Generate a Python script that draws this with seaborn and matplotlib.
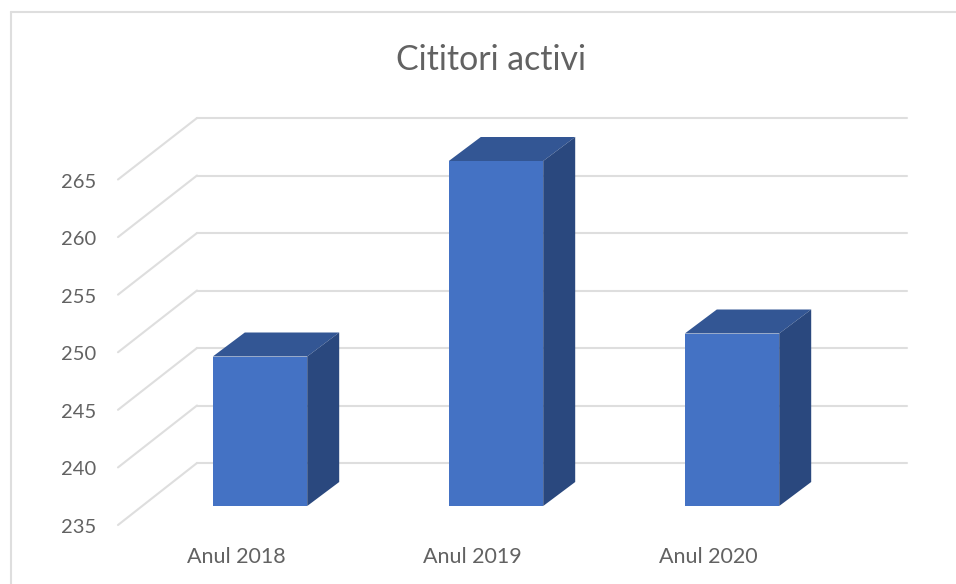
import matplotlib
matplotlib.use("Agg")
import matplotlib.pyplot as plt
import seaborn as sns
from matplotlib.lines import Line2D
from matplotlib.patches import ConnectionPatch, Polygon
from matplotlib.transforms import Affine2D, IdentityTransform

years = ["Anul 2018", "Anul 2019", "Anul 2020"]
cititori = [248, 265, 250]
y_ticks = [235, 240, 245, 250, 255, 260, 265]

W, H = 956, 584
GRID = "#DEDEDE"
TEXT = "#626262"
FRONT = "#4472C4"
TOP = "#335694"
SIDE = "#2A487E"
DEPTH = (32, 24)  # adancimea barei, in pixeli

sns.set_theme(style="white")
plt.rcParams["font.family"] = ["Lato", "DejaVu Sans"]


def px_axes(fig, left, right, top, bottom):
    # axe pozitionate in pixeli, cu originea sus ca in imagine
    ax = fig.add_axes([left / W, 1 - bottom / H, (right - left) / W, (bottom - top) / H])
    ax.patch.set_visible(False)
    ax.set_xlim(-0.5, 2.5)
    ax.set_ylim(y_ticks[0], y_ticks[-1])
    sns.despine(ax=ax, left=True, bottom=True, top=True, right=True)
    return ax


fig = plt.figure(figsize=(W / 100, H / 100), dpi=100, facecolor="white")

# peretele din spate
back = px_axes(fig, 197, 907, 118, 463)
back.set_yticks(y_ticks)
back.set_xticks([])
back.set_yticklabels([])
back.tick_params(length=0)
back.grid(axis="y", color=GRID, lw=1.5)
for line in back.get_ygridlines():
    line.set_clip_on(False)

# planul din fata, doar pentru etichete
front = px_axes(fig, 118, 826, 179.5, 525)
front.set_yticks(y_ticks)
front.set_xticks(range(len(years)), years)
front.tick_params(axis="y", length=0, pad=15.5, labelsize=14.5, labelcolor=TEXT)
front.tick_params(axis="x", length=0, pad=16, labelsize=15.5, labelcolor=TEXT)
for label in front.get_yticklabels():
    label.set_transform(label.get_transform() + Affine2D().translate(0, -1))

for v in y_ticks:
    fig.add_artist(
        ConnectionPatch(
            xyA=(0, v),
            coordsA=front.get_yaxis_transform(),
            xyB=(0, v),
            coordsB=back.get_yaxis_transform(),
            color=GRID,
            lw=1.5,
        )
    )

# barele
ax = px_axes(fig, 142, 850, 161, 506)
sns.barplot(x=years, y=cititori, color=FRONT, saturation=1, width=0.4, linewidth=0, ax=ax)
ax.set_xlim(-0.5, 2.5)
ax.set_ylim(y_ticks[0], y_ticks[-1])
ax.set_xticks([])
ax.set_yticks([])
ax.set_xlabel("")
ax.set_ylabel("")

dx, dy = DEPTH
for bar in list(ax.patches):
    x0, x1 = bar.get_x(), bar.get_x() + bar.get_width()
    (xa, ya) = ax.transData.transform((x0, bar.get_height()))
    (xb, yb) = ax.transData.transform((x1, bar.get_height()))
    (xc, yc) = ax.transData.transform((x1, y_ticks[0]))
    ax.add_patch(
        Polygon(
            [(xa, ya), (xb, yb), (xb + dx, yb + dy), (xa + dx, ya + dy)],
            transform=IdentityTransform(),
            facecolor=TOP,
            edgecolor="none",
            clip_on=False,
        )
    )
    ax.add_patch(
        Polygon(
            [(xb, yb), (xb + dx, yb + dy), (xc + dx, yc + dy), (xc, yc)],
            transform=IdentityTransform(),
            facecolor=SIDE,
            edgecolor="none",
            clip_on=False,
        )
    )

fig.text(491.5 / W, 1 - 60 / H, "Cititori activi", ha="center", va="center", fontsize=24.4, color=TEXT)

# chenarul graficului
fig.add_artist(Line2D([11 / W, 11 / W], [0, 1 - 12 / H], color=GRID, lw=1.5))
fig.add_artist(Line2D([11 / W, 1], [1 - 12 / H, 1 - 12 / H], color=GRID, lw=1.5))

fig.savefig("out.png", dpi=100)
